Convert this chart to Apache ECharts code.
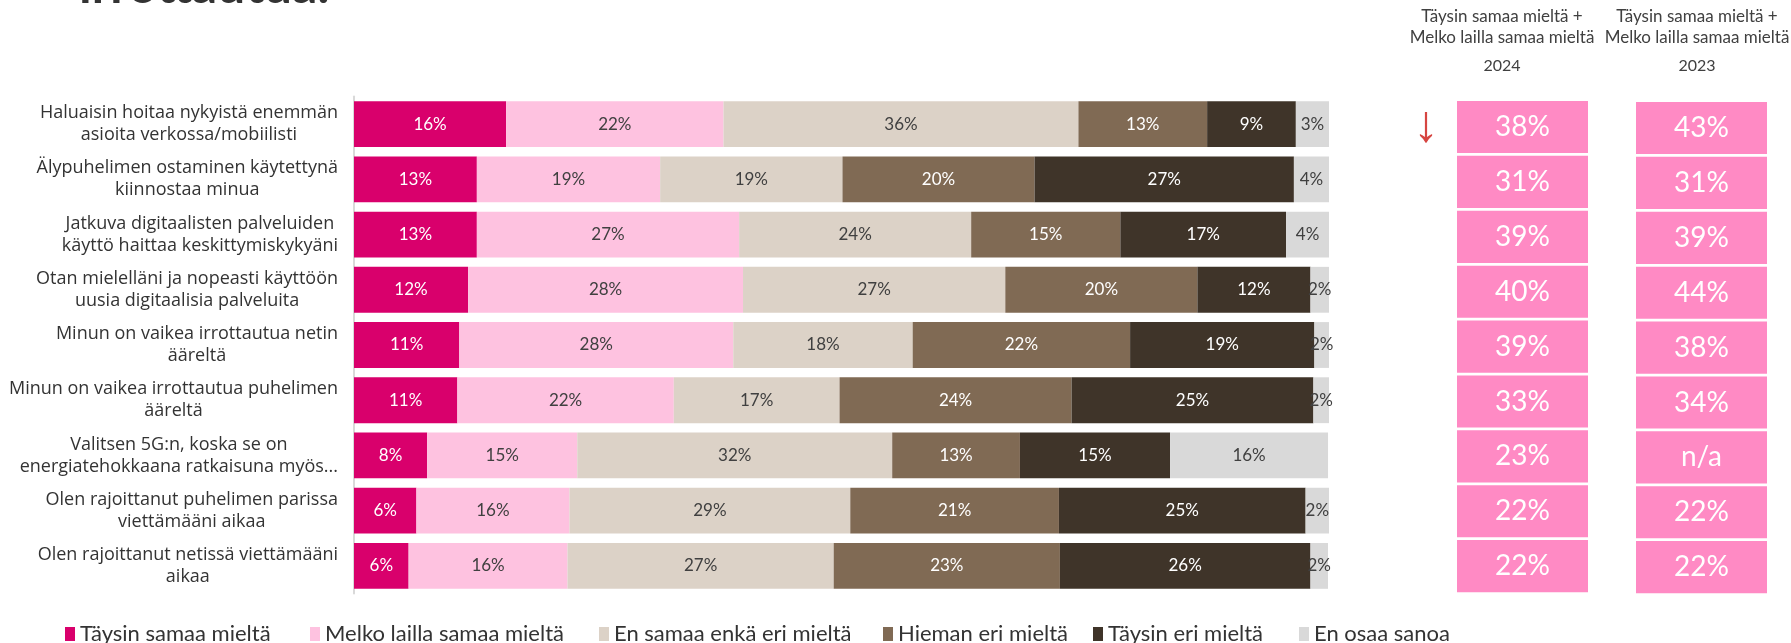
<!DOCTYPE html>
<html>
<head>
<meta charset="utf-8">
<script src="https://cdn.jsdelivr.net/npm/echarts@6/dist/echarts.min.js"></script>
<style>
  html, body { margin: 0; padding: 0; background: #fff; }
  #chart { width: 1791px; height: 643px; }
</style>
</head>
<body>
<div id="chart"></div>
<script>
const categories = [
  'Haluaisin hoitaa nykyistä enemmän\nasioita verkossa/mobiilisti',
  'Älypuhelimen ostaminen käytettynä\nkiinnostaa minua',
  'Jatkuva digitaalisten palveluiden\nkäyttö haittaa keskittymiskykyäni',
  'Otan mielelläni ja nopeasti käyttöön\nuusia digitaalisia palveluita',
  'Minun on vaikea irrottautua netin\nääreltä',
  'Minun on vaikea irrottautua puhelimen\nääreltä',
  'Valitsen 5G:n, koska se on\nenergiatehokkaana ratkaisuna myös...',
  'Olen rajoittanut puhelimen parissa\nviettämääni aikaa',
  'Olen rajoittanut netissä viettämääni\naikaa'
];

const seriesNames = [
  'Täysin samaa mieltä',
  'Melko lailla samaa mieltä',
  'En samaa enkä eri mieltä',
  'Hieman eri mieltä',
  'Täysin eri mieltä',
  'En osaa sanoa'
];

// shares (%); labels show them rounded
const taysinSamaa = [15.6, 12.6, 12.6, 11.7, 10.8, 10.6, 7.5, 6.4, 5.6];
const melkoSamaa = [22.3, 18.8, 26.9, 28.2, 28.1, 22.2, 15.4, 15.7, 16.3];
const eiSamaaEiEri = [36.4, 18.7, 23.8, 26.9, 18.4, 17.0, 32.3, 28.8, 27.3];
const hiemanEri = [13.2, 19.7, 15.3, 19.7, 22.3, 23.8, 13.1, 21.4, 23.2];
const taysinEri = [9.1, 26.6, 17.0, 11.6, 18.9, 24.8, 15.4, 25.3, 25.7];
const eiOsaa = [3.4, 3.6, 4.4, 1.9, 1.6, 1.7, 16.2, 2.4, 1.8];

// Täysin + Melko lailla samaa mieltä
const samaa2024 = [38, 31, 39, 40, 39, 33, 23, 22, 22];
const samaa2023 = [43, 31, 39, 44, 38, 34, null, 22, 22];
const trend2024 = ['↓', '', '', '', '', '', '', '', ''];

const headerText = 'Täysin samaa mieltä +\nMelko lailla samaa mieltä';
const years = ['2024', '2023'];

const colors = ['#D9006C', '#FEC2E0', '#DCD2C7', '#806A54', '#3F3429', '#D9D9D9'];
const labelColors = ['#ffffff', '#404040', '#404040', '#ffffff', '#ffffff', '#404040'];
const boxColor = '#FF8AC4';
const font = 'Lato, "Open Sans", sans-serif';
const catFont = '"Open Sans", Lato, sans-serif';
// left edge of each legend item, as in the original layout
const legendLefts = [65, 310, 599, 883, 1093, 1299];

const chart = echarts.init(document.getElementById('chart'));

const stackData = [taysinSamaa, melkoSamaa, eiSamaaEiEri, hiemanEri, taysinEri, eiOsaa];

const barSeries = stackData.map((values, i) => ({
  name: seriesNames[i],
  type: 'bar',
  stack: 'total',
  xAxisIndex: 0,
  yAxisIndex: 0,
  barCategoryGap: '17%',
  data: values,
  itemStyle: { color: colors[i] },
  label: {
    show: true,
    position: 'inside',
    color: labelColors[i],
    fontFamily: font,
    fontSize: 17,
    formatter: (p) => Math.round(p.value) + '%'
  },
  emphasis: { disabled: true }
}));

const boxSeries = (values, idx) => ({
  type: 'bar',
  xAxisIndex: idx,
  yAxisIndex: idx,
  barCategoryGap: '5%',
  silent: true,
  data: values.map(() => 1),
  itemStyle: { color: boxColor },
  label: {
    show: true,
    position: 'inside',
    color: '#ffffff',
    fontFamily: font,
    fontSize: 28,
    formatter: (p) => values[p.dataIndex] == null ? 'n/a' : values[p.dataIndex] + '%'
  }
});

const trendSeries = {
  type: 'bar',
  xAxisIndex: 1,
  yAxisIndex: 1,
  barCategoryGap: '5%',
  barGap: '-100%',
  silent: true,
  data: trend2024.map(() => 1),
  itemStyle: { color: 'rgba(0,0,0,0)' },
  label: {
    show: true,
    position: 'left',
    distance: 18,
    color: '#D64541',
    fontFamily: '"Liberation Sans", "DejaVu Sans", sans-serif',
    fontSize: 52,
    formatter: (p) => trend2024[p.dataIndex]
  }
};

const hiddenValueAxis = (gridIndex, max) => ({
  type: 'value', gridIndex: gridIndex, min: 0, max: max, show: false
});
const hiddenCatAxis = (gridIndex) => ({
  type: 'category', gridIndex: gridIndex, data: categories, inverse: true, show: false
});

const headerTitle = (year, centerX) => ({
  text: headerText,
  subtext: year,
  left: centerX,
  top: 6,
  padding: 0,
  itemGap: 8,
  textAlign: 'center',
  textStyle: { fontFamily: font, fontSize: 17, fontWeight: 'normal', color: '#404040', lineHeight: 21 },
  subtextStyle: { fontFamily: font, fontSize: 16, color: '#404040', lineHeight: 20 }
});

const legends = seriesNames.map((name, i) => ({
  data: [name],
  left: legendLefts[i],
  top: 623,
  padding: 0,
  itemWidth: 10,
  itemHeight: 14,
  icon: 'rect',
  selectedMode: false,
  textStyle: { fontFamily: font, fontSize: 22, color: '#333333' }
}));

const option = {
  animation: false,
  backgroundColor: '#ffffff',
  title: [
    {
      text: 'irrottautua.',
      left: 79,
      top: -38,
      padding: 0,
      textStyle: { fontFamily: font, fontSize: 50, fontWeight: 'bold', color: '#333333', lineHeight: 50 }
    },
    headerTitle(years[0], 1502),
    headerTitle(years[1], 1697)
  ],
  legend: legends,
  grid: [
    { left: 354, right: 462, top: 96.5, bottom: 49.5, outerBoundsMode: 'none' },
    { left: 1457, width: 131, top: 99.6, height: 494, outerBoundsMode: 'none' },
    { left: 1636, width: 131, top: 100.6, height: 494, outerBoundsMode: 'none' }
  ],
  xAxis: [
    hiddenValueAxis(0, 100),
    hiddenValueAxis(1, 1),
    hiddenValueAxis(2, 1)
  ],
  yAxis: [
    {
      type: 'category',
      gridIndex: 0,
      data: categories,
      inverse: true,
      axisLine: { show: true, lineStyle: { color: '#D9D9D9', width: 2 } },
      axisTick: { show: false },
      axisLabel: {
        margin: 16,
        align: 'right',
        formatter: (v) => v.split('\n').map((l) => '{c|' + l + '}').join('\n'),
        rich: {
          c: { align: 'center', fontFamily: catFont, fontSize: 18, lineHeight: 22, color: '#333333' }
        }
      }
    },
    hiddenCatAxis(1),
    hiddenCatAxis(2)
  ],
  series: [
    ...barSeries,
    boxSeries(samaa2024, 1),
    trendSeries,
    boxSeries(samaa2023, 2)
  ]
};

chart.setOption(option);
</script>
</body>
</html>
